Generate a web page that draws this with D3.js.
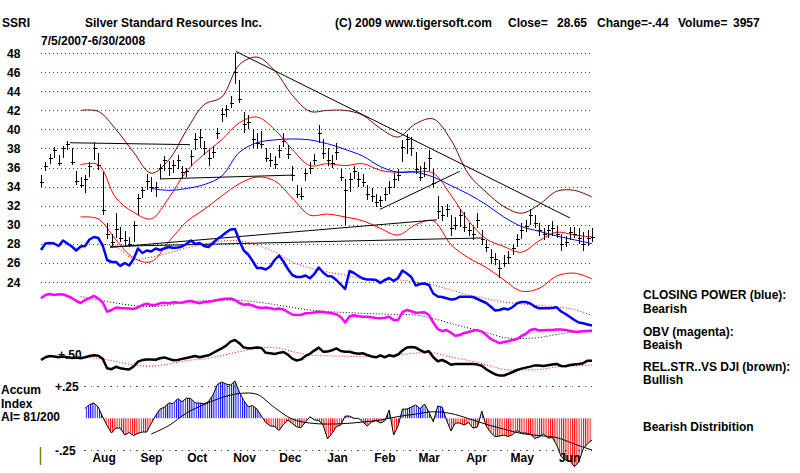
<!DOCTYPE html>
<html lang="en">
<head>
<meta charset="utf-8">
<title>SSRI - Silver Standard Resources Inc.</title>
<script src="https://cdn.jsdelivr.net/npm/d3@7"></script>
<style>
  body { margin: 0; background: #fff; }
  svg text { font-family: "Liberation Sans", Arial, sans-serif; font-weight: bold; font-size: 12px; fill: #000; }
</style>
</head>
<body>
<script>
// daily-ish price bars (one bar per two sessions)
var highs = [35.2,36.6,37.4,38.2,37.3,38.3,38.8,38.0,35.6,35.0,
  35.2,36.6,38.7,37.5,35.5,30.2,29.0,31.2,29.8,29.3,
  28.7,30.4,33.2,34.0,35.3,35.0,34.5,36.4,37.2,36.7,
  36.8,37.3,36.2,36.0,37.8,39.6,40.0,38.8,37.8,38.3,
  40.2,42.2,42.6,43.5,48.0,45.2,41.8,41.5,40.0,39.6,
  39.8,38.0,37.5,37.2,38.4,39.6,38.4,36.2,34.2,33.8,
  35.8,36.6,37.4,40.5,39.0,38.0,37.3,38.6,35.8,34.8,
  35.4,36.2,35.5,35.3,34.2,33.8,33.2,33.0,33.8,34.6,
  35.4,35.8,38.9,39.5,39.2,37.6,36.2,36.6,37.8,35.8,
  33.0,32.0,32.2,31.0,30.8,31.6,31.3,30.2,29.8,31.2,
  29.4,28.4,27.4,27.0,26.3,26.8,27.2,28.0,29.0,30.2,
  30.5,31.6,31.0,30.2,29.6,30.0,30.4,29.9,29.0,28.8,
  29.8,29.8,29.6,29.2,29.4,29.6];
var lows = [34.0,35.6,36.4,37.0,36.2,37.0,37.8,36.3,34.2,33.8,
  33.3,35.0,36.8,35.7,31.0,28.5,27.8,28.6,28.2,27.8,
  27.6,28.2,31.0,32.8,33.6,33.4,32.9,34.8,35.6,35.1,
  35.4,35.8,34.9,35.0,36.2,37.8,38.0,37.3,36.2,37.0,
  39.0,40.8,41.3,42.3,44.8,42.8,39.6,40.0,38.0,37.9,
  38.0,36.6,36.1,35.8,37.0,38.2,36.9,34.6,32.8,32.6,
  34.6,35.3,36.3,38.6,36.9,36.2,35.9,36.8,34.6,30.0,
  33.4,34.8,34.0,33.9,32.6,32.4,31.8,31.9,32.5,33.2,
  33.8,34.6,36.6,37.4,37.2,35.3,34.6,35.0,35.6,33.8,
  30.6,30.4,30.8,28.8,29.4,29.8,29.2,28.8,28.4,29.6,
  27.9,27.1,25.9,25.8,24.4,25.5,25.9,26.8,27.6,28.5,
  29.2,30.0,29.6,28.8,28.4,28.6,28.8,28.6,27.2,27.6,
  28.4,28.6,28.0,27.2,27.8,28.2];
var closes = [34.5,36.2,37.0,37.8,36.5,38.0,38.5,36.6,34.6,34.2,
  34.8,36.2,38.0,36.3,31.5,29.0,28.2,29.5,28.6,28.4,
  28.0,30.0,32.8,33.6,34.6,34.0,34.0,36.0,36.8,36.0,
  36.3,36.8,35.5,35.6,37.2,39.0,39.2,38.0,37.0,37.6,
  39.6,41.6,42.1,42.8,46.0,43.2,40.6,40.8,39.0,38.6,
  38.5,37.0,36.8,36.4,37.8,38.8,37.4,35.2,33.2,33.0,
  35.4,36.0,36.8,39.6,37.5,36.8,36.5,37.6,35.0,33.6,
  34.8,35.6,34.8,34.5,33.2,33.0,32.4,32.6,33.2,34.0,
  34.8,35.2,38.2,39.0,38.0,35.8,35.0,36.0,37.0,34.4,
  31.4,31.0,31.6,29.6,30.0,31.0,29.8,29.4,29.0,30.5,
  28.5,27.6,26.6,26.4,25.4,26.0,26.6,27.5,28.5,29.4,
  29.9,31.0,30.2,29.4,29.0,29.4,29.6,29.0,28.0,28.2,
  29.2,29.0,28.6,28.0,28.6,28.65];

// smooth lines: one value every 4th bar, starting at bar 9
var upperBand = [42.0,41.9,40.0,37.6,35.4,36.8,39.9,42.6,43.4,46.8,47.6,46.2,43.6,41.9,42.0,
  42.0,41.5,40.1,39.2,40.6,41.1,38.9,35.3,33.4,31.9,31.2,32.1,33.5,33.6,32.9];
var midBand = [36.3,36.3,32.8,31.3,30.6,32.8,35.6,37.4,38.9,40.7,41.3,40.0,37.9,36.2,36.4,
  36.2,36.4,35.7,35.5,35.6,35.4,33.1,30.4,28.5,27.7,27.1,28.3,29.2,28.9,28.7];
var lowerBand = [30.8,30.6,28.4,26.5,26.1,28.2,30.3,31.6,33.0,34.3,35.0,34.6,32.8,31.0,31.1,
  30.8,30.4,29.6,28.9,30.0,30.4,27.9,26.5,25.5,24.2,23.0,23.3,24.6,24.9,24.3];
var blueMA = [null,null,null,null,33.8,33.6,33.8,34.2,35.1,37.6,38.6,38.9,39.0,38.9,38.5,
  37.9,37.2,36.1,35.5,35.5,35.0,34.1,33.2,32.1,30.8,29.8,29.3,28.8,28.4,28.0];

// closing power (blue), 0-100 units, one value per bar
var closingPower = [85,91.5,92,91.5,89,94.5,91.5,88.5,84.5,88.5,
  89,95.5,98,97,89.5,75,73,73,69,72,
  69.5,76,86.5,82,84.5,83.5,86.5,85,86.5,88,
  87,87.5,88.5,91,94.5,91,92,89,88,92,
  96,99,102.5,105.5,106,94.5,84.5,80.5,74,67,
  67,65.5,68.5,75,79.5,73.5,66,60,58,58,
  59.5,56.7,61,67.5,62.5,59,58.5,55,50.5,46,
  64,62,59,56.5,55.5,55.5,55,52,55,57,
  54,57,64.5,61.5,58,49.5,51,51.5,50,41.5,
  38.5,38,36.7,35.5,36,38.3,38.3,38.3,38,36,
  34,32,28.5,24.5,25,26.5,25.5,28,31.7,33,
  33,31.5,28.5,26.7,26.7,26.7,27,27.7,23.5,21,
  18,15,12.5,11.7,10.5,9.5];
var closingPowerMA = [null,91,88,76,78,82,87,91,94,94,90,83,73,67,63,
  60,56,55,55,53,50,45,40,36.5,33,31,29.5,28,25.5,19.5];

// OBV (magenta), 0-100 units
var obv = [93.4,100,102,100,101.4,101,98,94,88,84,
  90,93.6,98.4,93,85,66.6,70,75,74,73.4,
  73,72,75.4,80,82.4,80,80,83.4,84.6,83.6,
  85.6,84.8,84.6,87,88,85.4,83.4,86,86.6,88,
  90,91.6,92.4,93,90,84,80.6,81.4,79,75.4,
  74,75,73.4,71.4,73,71,66,61,60,60.4,
  63.4,64,64.8,66.4,66,64.4,63.4,61.6,56,45,
  57.6,59.6,57.4,56.6,56.6,55.6,54,53.4,54.4,56.4,
  50,50,66,70,67.4,64.4,64.8,65.4,60,45,
  32,27.6,30,24.4,18.6,20,24,26,28.4,29.8,
  26.8,20,12.4,8,3.6,6,7.6,10,12,18,
  22,30,32,29,29.6,30,30,30.8,31.2,30.2,
  28,26.6,26.6,27.4,28,28.6];
var obvMA = [96.6,90,84,79,77,80,86.6,88.4,89.6,89,86,81,75,70,67,
  65,63.4,62,61,60,53,43,34,25,15,13,15,21,26.4,30];

// relative strength vs DJI (black), 0-100 units
var relStr = [50,56.8,60,58.5,57,58.8,57,55,56.3,54.5,
  56.8,59.8,62,60.8,53,29.5,27,33,29.5,27.5,
  26,33.8,45.8,49.8,51.3,51,50.5,54.3,56.5,52.8,
  49.3,50,52.8,55,57.3,59.8,57,59.5,61.8,67.5,
  73.3,79,85.8,96,100,92,81,79.5,80,81.3,
  80,68,66.8,65,67.8,70,63.3,53.5,48.8,51.5,
  60,65.5,73.5,81,70.8,71,74.3,79,72.5,70.8,
  70.8,67.5,65.5,66.8,62.5,59,56.8,61.8,56.8,62,
  59.3,63.8,73.8,81.5,82.5,81,74.5,69.3,72,56.8,
  46.8,50,45,38,40,40,40,40,40,38.5,
  35.5,26.8,20.5,14.3,11,11.3,15.5,20,25,28.5,
  31,33.5,36.5,36,35,37,38.5,40,35,34.3,
  37.5,38.8,40,42,48.3,48.3];
var relStrMA = [56.8,53.8,46.3,37.5,34.5,40,48.3,53,61.3,70.8,78.8,81.3,71.3,62.5,60.5,
  59.3,58.3,59.5,62.5,67.5,68,57.5,48.8,38,26.8,25,26.3,32.5,35,37.5];

// accumulation index, starts at bar 10
var accum = [0.079,0.109,0.121,0.089,0.010,-0.057,-0.116,-0.077,-0.077,-0.132,
  -0.112,-0.136,-0.118,-0.108,-0.108,-0.041,0.022,0.073,0.089,0.121,
  0.117,0.156,0.131,0.160,0.156,0.121,0.121,0.115,0.133,0.184,
  0.267,0.287,0.271,0.263,0.295,0.208,0.141,0.092,0.101,0.073,
  0.018,-0.033,-0.059,-0.065,-0.096,-0.049,-0.013,-0.041,-0.067,-0.073,
  -0.029,0.013,-0.012,-0.017,-0.053,-0.162,-0.120,-0.066,-0.053,0.018,
  0.018,0,0,-0.027,-0.061,-0.029,-0.017,-0.037,-0.020,0.066,
  -0.132,-0.061,0.073,0.073,0.089,0.105,0.077,0.113,0.050,-0.027,
  0.097,0.089,-0.013,-0.100,-0.037,-0.037,-0.053,-0.033,-0.077,-0.069,
  0.058,-0.061,-0.112,-0.144,-0.140,-0.132,-0.144,-0.128,-0.096,-0.116,
  -0.116,-0.124,-0.158,-0.148,-0.124,-0.156,-0.152,-0.211,-0.302,-0.329,
  -0.337,-0.381,-0.345,-0.242,-0.199,-0.171];
var accumMA = [null,null,null,null,-0.124,-0.057,0.042,0.109,0.164,0.196,0.190,0.085,-0.006,-0.037,-0.045,
  -0.041,-0.029,-0.013,0.014,0.034,0.052,0.038,-0.002,-0.047,-0.085,-0.120,-0.136,-0.152,-0.203,-0.250];

// trend lines: [from bar, from price, to bar, to price]
var trendLines = [[6.6,38.6,33.8,38.4],[27,34.8,57,35.2],[44.2,48.2,120,30.7],
  [76.9,31.6,95,35.6],[15.7,27.6,89.8,30.5],[15.7,27.7,100.3,28.6]];

var priceTicks = [24,26,28,30,32,34,36,38,40,42,44,46,48];
var monthNames = ["Aug","Sep","Oct","Nov","Dec","Jan","Feb","Mar","Apr","May","Jun"];
var legendLines = [["CLOSING POWER (blue):", 299], ["Bearish", 312.5], ["OBV (magenta):", 336],
  ["Beaish", 349], ["REL.STR..VS DJI (brown):", 371], ["Bullish", 384], ["Bearish Distribition", 430.5]];

var accumStart = 10, smoothStart = 9, smoothStep = 4;

var svg = d3.select("body").append("svg").attr("width", 800).attr("height", 473);
var defs = svg.append("defs");

var x = d3.scaleLinear().domain([0, closes.length - 1]).range([41, 592]);
var xt = d3.scaleTime().domain([new Date(2007, 6, 5), new Date(2008, 5, 30)]).range([41, 592]);
var y = d3.scaleLinear().domain([24, 48]).range([281.7, 53.3]);
var cpY = d3.scaleLinear().domain([0, 100]).range([335, 235]);
var obvY = d3.scaleLinear().domain([0, 100]).range([345, 295]);
var rsY = d3.scaleLinear().domain([0, 100]).range([380, 340]);
var aiY = d3.scaleLinear().domain([-0.25, 0.25]).range([450, 386.7]);

function sx(k) { return x(smoothStart + k * smoothStep); }

// price grid + labels
var yAxis = svg.append("g").attr("transform", "translate(41,0)")
  .call(d3.axisLeft(y).tickValues(priceTicks).tickSize(-552).tickFormat(d3.format("d")));
yAxis.select(".domain").remove();
yAxis.selectAll("line").attr("stroke", "#008000").attr("stroke-dasharray", "1,3").attr("shape-rendering", "crispEdges");
yAxis.selectAll("text").attr("x", -34).attr("dy", "0.36em").attr("text-anchor", "start")
  .style("font-size", "12px");
yAxis.attr("font-family", null).attr("font-size", null);

// accum grid lines
[0.25, -0.25].forEach(function(v) {
  svg.append("line").attr("x1", 84).attr("x2", 592).attr("y1", aiY(v)).attr("y2", aiY(v))
    .attr("stroke", "#555").attr("stroke-dasharray", "1.5,5").attr("shape-rendering", "crispEdges");
});

function smooth(scale) {
  return d3.line().defined(function(v) { return v != null; })
    .x(function(v, k) { return sx(k); }).y(function(v) { return scale(v); })
    .curve(d3.curveCatmullRom);
}
function daily(scale, offset) {
  return d3.line().x(function(v, i) { return x(i + (offset || 0)); }).y(function(v) { return scale(v); });
}

svg.append("path").attr("d", smooth(y)(upperBand)).attr("fill", "none").attr("stroke", "#800000");
svg.append("path").attr("d", smooth(y)(midBand)).attr("fill", "none").attr("stroke", "#ff0000");
svg.append("path").attr("d", smooth(y)(lowerBand)).attr("fill", "none").attr("stroke", "#ff0000");
svg.append("path").attr("d", smooth(y)(blueMA)).attr("fill", "none").attr("stroke", "#0000ff");

svg.append("g").selectAll("line").data(trendLines).enter().append("line")
  .attr("x1", function(d) { return x(d[0]); }).attr("y1", function(d) { return y(d[1]); })
  .attr("x2", function(d) { return x(d[2]); }).attr("y2", function(d) { return y(d[3]); })
  .attr("stroke", "#000").attr("stroke-width", 1);

// price bars
svg.append("g").attr("stroke", "#000").attr("shape-rendering", "crispEdges")
  .selectAll("path").data(closes).enter().append("path")
  .attr("d", function(c, i) {
    var bx = Math.round(x(i)) + 0.5, cy = Math.round(y(c)) + 0.5;
    return "M" + bx + "," + y(highs[i]) + "V" + y(lows[i]) + "M" + (bx - 2) + "," + cy + "H" + (bx + 2.5);
  });

// indicator lines
svg.append("path").attr("d", smooth(cpY)(closingPowerMA)).attr("fill", "none")
  .attr("stroke", "#ff0000").attr("stroke-dasharray", "1,2");
svg.append("path").attr("d", daily(cpY)(closingPower)).attr("fill", "none")
  .attr("stroke", "#0000ff").attr("stroke-width", 2.5).attr("stroke-linejoin", "round");
svg.append("path").attr("d", smooth(obvY)(obvMA)).attr("fill", "none")
  .attr("stroke", "#000").attr("stroke-dasharray", "1,2");
svg.append("path").attr("d", daily(obvY)(obv)).attr("fill", "none")
  .attr("stroke", "#ff00ff").attr("stroke-width", 2.5).attr("stroke-linejoin", "round");
svg.append("path").attr("d", smooth(rsY)(relStrMA)).attr("fill", "none")
  .attr("stroke", "#ff0000").attr("stroke-dasharray", "1,2");
svg.append("path").attr("d", daily(rsY)(relStr)).attr("fill", "none")
  .attr("stroke", "#000").attr("stroke-width", 2.5).attr("stroke-linejoin", "round");

// accumulation index histogram: striped fill above / below zero
[["blueStripe", "#0000ff"], ["redStripe", "#ff0000"]].forEach(function(p) {
  defs.append("pattern").attr("id", p[0]).attr("patternUnits", "userSpaceOnUse")
    .attr("width", 2.2).attr("height", 10)
    .append("rect").attr("width", 1).attr("height", 10).attr("fill", p[1]);
});
defs.append("clipPath").attr("id", "aboveZero").append("rect")
  .attr("x", 0).attr("y", 0).attr("width", 800).attr("height", aiY(0));
defs.append("clipPath").attr("id", "belowZero").append("rect")
  .attr("x", 0).attr("y", aiY(0)).attr("width", 800).attr("height", 473 - aiY(0));

var aiArea = d3.area().x(function(v, j) { return x(j + accumStart); })
  .y0(aiY(0)).y1(function(v) { return aiY(v); });
svg.append("path").attr("d", aiArea(accum)).attr("fill", "url(#blueStripe)").attr("clip-path", "url(#aboveZero)");
svg.append("path").attr("d", aiArea(accum)).attr("fill", "url(#redStripe)").attr("clip-path", "url(#belowZero)");
svg.append("path").attr("d", daily(aiY, accumStart)(accum)).attr("fill", "none").attr("stroke", "#000");
svg.append("path").attr("d", smooth(aiY)(accumMA)).attr("fill", "none").attr("stroke", "#000");

// month labels
var monthDates = monthNames.map(function(m, k) { return new Date(2007, 7 + k, 15); });
var xAxis = svg.append("g").attr("transform", "translate(0,450)")
  .call(d3.axisBottom(xt).tickValues(monthDates).tickSize(0).tickFormat(function(d, k) { return monthNames[k]; }));
xAxis.select(".domain").remove();
xAxis.attr("font-family", null).attr("font-size", null);
xAxis.selectAll("text").style("font-size", "12px");

// olive marker at the left of the accum panel
svg.append("line").attr("x1", 40.5).attr("x2", 40.5).attr("y1", 447).attr("y2", 465)
  .attr("stroke", "#808000").attr("stroke-width", 1.5);

// texts
function label(t, tx, ty) { svg.append("text").attr("x", tx).attr("y", ty).text(t); }
label("SSRI", 2, 27);
label("Silver Standard Resources Inc.", 85, 27);
label("(C) 2009 www.tigersoft.com", 335, 27);
label("Close=", 508, 27);
label("28.65", 557, 27);
label("Change=-.44", 597, 27);
label("Volume=", 678, 27);
label("3957", 733, 27);
label("7/5/2007-6/30/2008", 41, 45);
label("+.50", 58, 359);
label("+.25", 55, 390.5);
label("-.25", 55, 454.5);
label("Accum", 1, 394);
label("Index", 1, 407.5);
label("AI= 81/200", 1, 421);
legendLines.forEach(function(l) { label(l[0], 643, l[1]); });
</script>
</body>
</html>
